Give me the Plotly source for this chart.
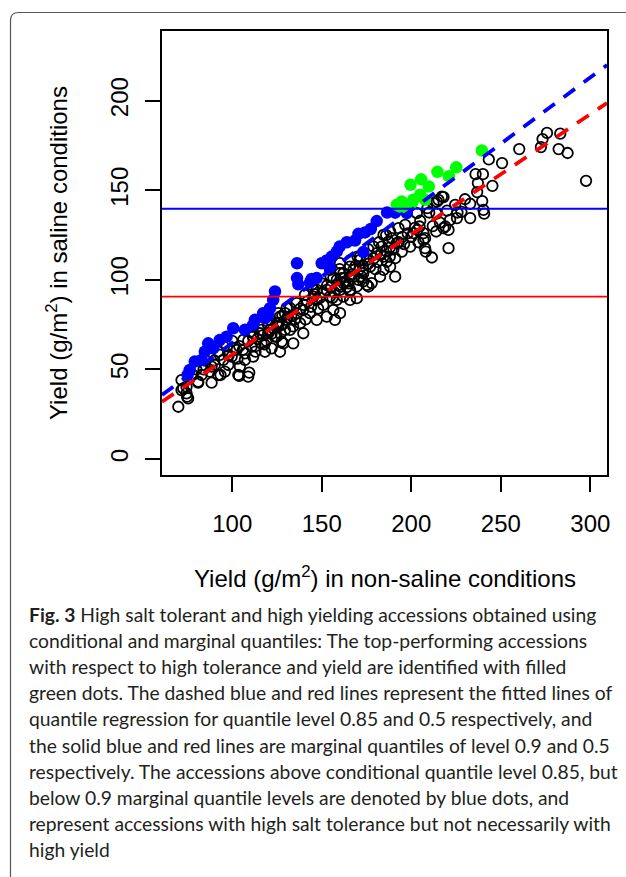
import plotly.graph_objects as go

# ---------------- data ----------------
# black open circles (non-saline yield, saline yield)
black_x = [250.7, 260.3, 275.8, 273.3, 272.4, 283.2, 282.3, 287.3, 297.6,
           243.3, 235.9, 240.0, 245.3, 237.2, 236.8, 239.6, 240.3, 240.7, 232.9, 232.9,
           225.5, 225.8, 224.5, 218.0, 215.2, 212.4, 210.0, 209.0, 220.0, 219.0,
           220.8, 213.9, 206.8, 203.4, 204.6, 208.1, 211.5, 220.8, 207.7, 207.7,
           218.0, 221.7, 206.8, 203.1, 201.2, 196.6, 192.9, 188.2, 189.1, 187.3,
           191.9, 199.4, 194.7, 191.0, 186.3, 188.2, 184.5, 182.6, 177.9, 173.2,
           175.2, 171.4, 180.7, 178.9, 183.5, 167.7, 165.8, 170.5, 175.2, 162.1,
           158.4, 160.2, 160.2, 165.8, 184.5, 184.5, 191.0, 214.3, 217.1,
           173.2, 167.7, 162.1, 156.5, 154.6, 160.2, 165.8, 171.4, 173.2, 177.0,
           176.1, 169.6, 169.6, 165.8, 162.1, 158.4, 154.6, 150.9, 147.2, 165.8,
           160.2, 152.8, 147.2, 144.4, 145.3, 140.6, 143.4, 139.7, 136.0, 132.3,
           136.0, 147.2, 152.8, 156.5, 160.2, 157.4, 137.9, 130.4, 126.7, 132.3,
           139.7, 134.1, 128.5, 124.8, 121.1, 115.5, 111.7, 125.7, 121.1,
           69.9, 71.7, 74.5, 75.4, 74.5, 71.7, 81.0, 82.9, 87.5, 88.5,
           92.2, 95.9, 97.8, 103.4, 108.9, 95.0, 99.7, 102.5, 107.1, 107.1,
           111.7, 110.8, 106.2, 111.7, 116.4, 118.3, 122.0, 126.7, 127.6, 123.9,
           120.1, 116.4, 129.5, 124.8, 129.5, 125.7, 130.4, 90.3, 93.1, 104.3,
           74.8, 72.6, 103.9, 109.5, 88.5, 93.5, 81.0,
           98.0, 101.0, 104.0, 106.0, 109.0, 113.0, 114.0, 117.0, 119.0, 122.0,
           123.0, 126.0, 128.0, 131.0, 133.0, 135.0, 138.0, 140.0, 142.0, 144.0,
           146.0, 149.0, 151.0, 153.0, 155.0, 157.0, 159.0, 161.0, 163.0, 165.0,
           167.0, 169.0, 171.0, 173.0, 176.0, 179.0, 181.0, 183.0, 186.0, 188.0,
           190.0, 193.0, 195.0, 198.0, 200.0, 202.0, 205.0, 103.0, 113.0, 118.0,
           127.0, 134.0, 141.0, 148.0, 156.0, 164.0, 172.0, 180.0, 188.0, 196.0,
           204.0, 212.0, 216.0, 228.0, 230.0, 214.0, 100.0, 97.0, 92.0, 85.0,
           80.0, 78.0, 84.0, 90.0, 112.0, 120.0, 128.0, 145.0, 150.0, 155.0,
           160.0, 166.0, 170.0, 176.0, 182.0, 186.0]
black_y = [165.2, 173.0, 182.0, 178.6, 174.1, 181.6, 173.0, 170.8, 155.3,
           167.2, 159.0, 159.0, 152.5, 154.0, 149.0, 144.0, 139.1, 137.0, 142.5, 134.5,
           134.5, 137.6, 141.9, 146.2, 144.7, 142.8, 137.6, 140.0, 138.7, 129.8,
           127.9, 127.0, 122.3, 127.9, 129.8, 115.8, 112.5, 117.7, 117.7, 123.3,
           128.9, 133.5, 126.1, 137.3, 126.1, 130.7, 128.9, 127.0, 123.3, 121.4,
           120.5, 118.6, 115.8, 112.1, 110.2, 107.4, 105.6, 101.8, 98.2, 105.6,
           111.2, 113.0, 114.9, 118.6, 118.6, 105.6, 101.8, 100.0, 97.2, 98.2,
           100.0, 103.7, 94.4, 93.5, 125.1, 113.0, 101.8, 143.7, 146.5,
           99.1, 101.8, 103.7, 101.0, 105.6, 109.3, 107.4, 111.2, 103.7, 107.4,
           96.3, 96.3, 89.8, 88.8, 90.7, 88.8, 90.7, 86.0, 88.8, 94.4,
           96.3, 94.4, 94.4, 97.2, 90.7, 91.6, 81.4, 83.2, 87.0, 84.2,
           81.4, 77.7, 79.5, 83.2, 81.4, 77.7, 75.8, 77.7, 79.5, 72.1,
           70.2, 64.6, 64.6, 68.3, 72.1, 70.2, 73.9, 73.9, 77.7,
           29.2, 38.5, 40.4, 33.9, 36.7, 44.1, 43.2, 46.9, 48.8, 51.6,
           46.9, 48.8, 52.5, 46.9, 46.0, 55.3, 57.2, 60.9, 59.0, 55.3,
           57.2, 62.7, 66.5, 68.3, 64.6, 59.9, 61.8, 59.9, 65.5, 68.3,
           70.2, 72.1, 72.1, 75.8, 81.4, 81.4, 84.2, 52.5, 58.1, 51.6,
           34.8, 39.5, 46.4, 48.2, 42.6, 46.9, 42.6,
           58.0, 62.0, 63.0, 61.0, 66.0, 63.0, 67.0, 69.0, 66.0, 70.0,
           73.0, 76.0, 75.0, 79.0, 80.0, 78.0, 84.0, 86.0, 88.0, 85.0,
           92.0, 90.0, 93.0, 97.0, 96.0, 93.0, 97.0, 101.0, 99.0, 98.0,
           103.0, 108.0, 106.0, 108.0, 109.0, 112.0, 110.0, 114.0, 116.0, 118.0,
           117.0, 121.0, 124.0, 126.0, 124.0, 129.0, 133.0, 56.0, 60.0, 64.0,
           70.0, 74.0, 78.0, 84.0, 90.0, 96.0, 102.0, 106.0, 113.0, 120.0,
           121.0, 130.0, 132.0, 138.0, 145.0, 137.0, 66.0, 63.0, 60.0, 55.0,
           50.0, 47.0, 50.0, 55.0, 70.0, 75.0, 80.0, 95.0, 98.0, 102.0,
           106.0, 111.0, 113.0, 117.0, 121.0, 125.0]

# blue filled dots: above conditional 0.85 quantile, below marginal 0.9 quantile
blue_x = [186.5, 180.7, 177.4, 174.2, 170.5, 168.6, 164.0, 160.0, 158.4, 155.6,
          152.8, 154.6, 136.2, 136.2, 144.4, 143.4, 136.9, 173.2, 123.9, 122.9,
          121.1, 117.3, 112.7, 120.1, 111.7, 107.1, 100.6, 96.9, 93.1, 89.4,
          86.6, 84.7, 82.9, 79.1, 76.3, 75.1, 118.3, 197.5, 191.0, 147.2, 150.0]
blue_y = [137.6, 132.8, 128.4, 126.5, 125.7, 122.0, 121.0, 118.6, 115.8, 113.0,
          110.8, 107.0, 109.3, 101.0, 100.5, 98.5, 97.5, 115.5, 93.5, 88.8,
          84.2, 81.4, 77.7, 80.4, 74.9, 72.1, 73.0, 68.3, 66.5, 61.8,
          64.6, 59.9, 55.3, 54.4, 49.7, 46.9, 78.6, 137.3, 137.5, 101.0, 109.3]

# green filled dots: top-performing accessions
green_x = [239.4, 225.1, 221.0, 214.6, 205.5, 209.8, 199.6, 205.0, 201.2, 194.7,
           191.9, 200.3, 196.6, 197.5, 193.5, 207.7]
green_y = [172.2, 162.8, 157.9, 160.3, 156.1, 152.1, 153.1, 147.5, 144.7, 143.7,
           141.9, 142.8, 140.6, 141.3, 141.0, 144.7]

# quantile regression lines (intercept, slope)
qr85_coef = [-9.3, 0.741]
qr50_coef = [-8.8, 0.671]
# marginal quantiles of saline yield
marg90 = 139.7
marg50 = 90.7

x_ticks = [100, 150, 200, 250, 300]
y_ticks = [0, 50, 100, 150, 200]
x_range = [60.8, 309.3]
y_range = [-8.9, 238.9]

caption_lines = [
    "<b>Fig. 3</b> High salt tolerant and high yielding accessions obtained using",
    "conditional and marginal quantiles: The top-performing accessions",
    "with respect to high tolerance and yield are identified with filled",
    "green dots. The dashed blue and red lines represent the fitted lines of",
    "quantile regression for quantile level 0.85 and 0.5 respectively, and",
    "the solid blue and red lines are marginal quantiles of level 0.9 and 0.5",
    "respectively. The accessions above conditional quantile level 0.85, but",
    "below 0.9 marginal quantile levels are denoted by blue dots, and",
    "represent accessions with high salt tolerance but not necessarily with",
    "high yield",
]

# ---------------- layout geometry (pixels) ----------------
W, H = 626, 877
L, R, T, B = 162, 607, 31, 475  # plot box edges


def px_x(px):
    return (px - L) / (R - L)


def px_y(py):
    return (B - py) / (B - T)


fig = go.Figure()

fig.add_trace(go.Scatter(
    x=black_x, y=black_y, mode="markers", hoverinfo="skip",
    marker=dict(symbol="circle-open", size=10.5, color="black", line=dict(width=1.8)),
))
fig.add_trace(go.Scatter(
    x=blue_x, y=blue_y, mode="markers", hoverinfo="skip",
    marker=dict(symbol="circle", size=12.5, color="#0000FF", line=dict(width=0)),
))
fig.add_trace(go.Scatter(
    x=green_x, y=green_y, mode="markers", hoverinfo="skip",
    marker=dict(symbol="circle", size=12.5, color="#00FF00", line=dict(width=0)),
))

line_x = [x_range[0], x_range[1]]
for coef, col in [(qr85_coef, "#0000FF"), (qr50_coef, "#FF0000")]:
    fig.add_trace(go.Scatter(
        x=line_x, y=[coef[0] + coef[1] * v for v in line_x], mode="lines",
        hoverinfo="skip", line=dict(color=col, width=3.8, dash="14px,11px"),
    ))
for val, col in [(marg90, "#0000FF"), (marg50, "#FF0000")]:
    fig.add_trace(go.Scatter(
        x=line_x, y=[val, val], mode="lines", hoverinfo="skip",
        line=dict(color=col, width=1.8),
    ))

axis_font = dict(family="Liberation Sans, Arial, sans-serif", size=24, color="black")

fig.update_layout(
    width=W, height=H,
    margin=dict(l=L, r=W - R, t=T, b=H - B, pad=0),
    paper_bgcolor="white", plot_bgcolor="white",
    showlegend=False,
    xaxis=dict(range=x_range, tickvals=x_ticks, ticktext=[str(v) for v in x_ticks],
               ticks="outside", ticklen=15, tickwidth=1.5, tickcolor="black",
               showline=True, mirror=True, linecolor="black", linewidth=1.6,
               showgrid=False, zeroline=False, tickfont=axis_font,
               ticklabelstandoff=11),
    yaxis=dict(range=y_range, tickvals=y_ticks, ticktext=[str(v) for v in y_ticks],
               ticks="outside", ticklen=15, tickwidth=1.5, tickcolor="black",
               showline=True, mirror=True, linecolor="black", linewidth=1.6,
               showgrid=False, zeroline=False, tickfont=axis_font, tickangle=-90,
               ticklabelstandoff=8),
)

annotations = [
    dict(text="Yield (g/m<sup>2</sup>) in non-saline conditions",
         xref="paper", yref="paper", x=px_x(384.5), y=px_y(577),
         xanchor="center", yanchor="middle", showarrow=False, font=axis_font),
    dict(text="Yield (g/m<sup>2</sup>) in saline conditions",
         xref="paper", yref="paper", x=px_x(57), y=px_y(253),
         xanchor="center", yanchor="middle", showarrow=False, font=axis_font,
         textangle=-90),
]
cap_font = dict(family="Lato, sans-serif", size=19.3, color="#231f20")
for i, line in enumerate(caption_lines):
    annotations.append(dict(
        text=line, xref="paper", yref="paper", x=px_x(27), y=px_y(614 + 26.2 * i),
        xanchor="left", yanchor="middle", showarrow=False, font=cap_font,
    ))
fig.update_layout(annotations=annotations)

# outer figure frame with rounded top-left corner
x0, y0, x1, y1, r = px_x(10.5), px_y(12.5), px_x(640), px_y(900), 8
fig.add_shape(
    type="path", xref="paper", yref="paper",
    path=(f"M {x0},{y1} L {x0},{px_y(12.5 + r)} "
          f"Q {x0},{y0} {px_x(10.5 + r)},{y0} L {x1},{y0}"),
    line=dict(color="#555555", width=1.2), layer="below",
)

fig.write_html("out.html")
